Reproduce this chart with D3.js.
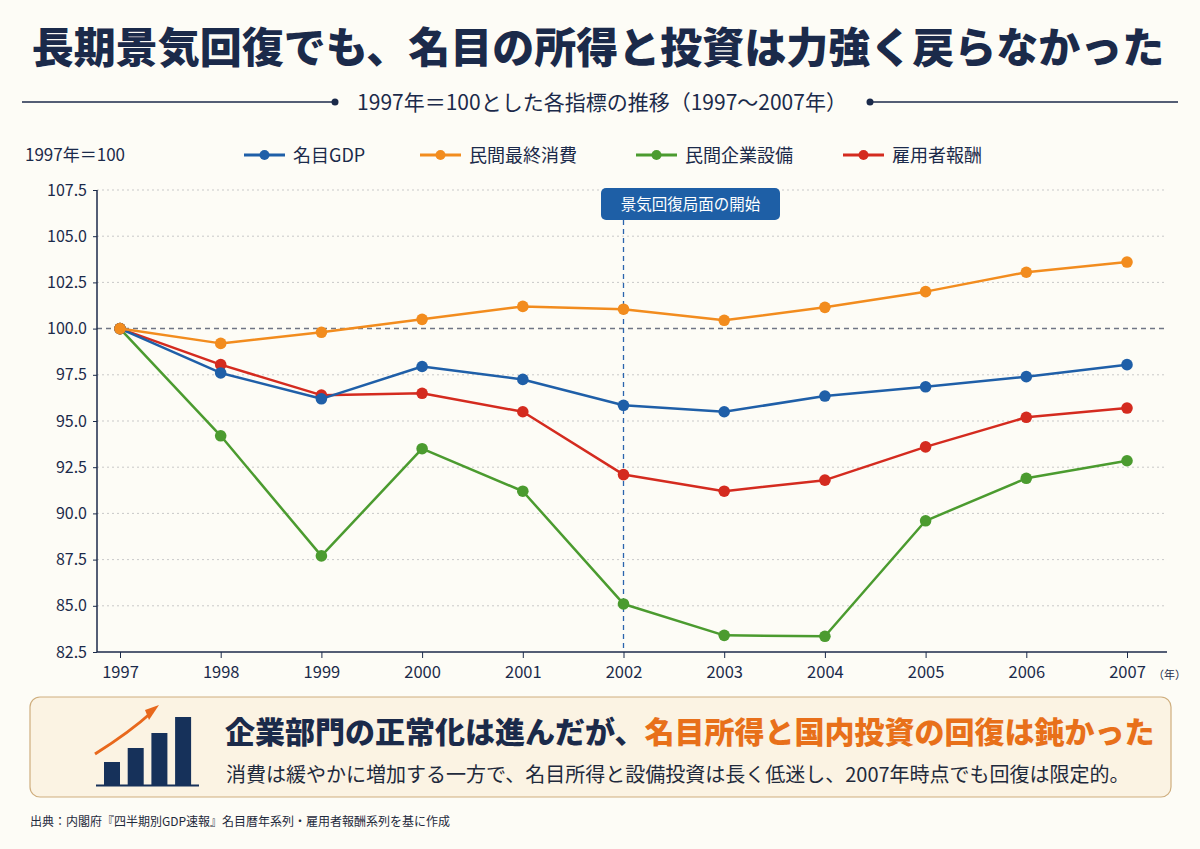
<!DOCTYPE html>
<html>
<head>
<meta charset="utf-8">
<script src="https://cdn.jsdelivr.net/npm/d3@7"></script>
<style>
  body { margin: 0; background: #fdfcf6; }
  svg { display: block; font-family: "Noto Sans CJK JP", "Noto Sans", sans-serif; }
</style>
</head>
<body>
<div id="chart"></div>
<script>
// data
var years = [1997, 1998, 1999, 2000, 2001, 2002, 2003, 2004, 2005, 2006, 2007];
var gdp = [100, 97.6, 96.2, 97.95, 97.25, 95.85, 95.5, 96.35, 96.85, 97.4, 98.05];
var consumption = [100, 99.2, 99.8, 100.5, 101.2, 101.05, 100.45, 101.15, 102.0, 103.05, 103.6];
var investment = [100, 94.2, 87.7, 93.5, 91.2, 85.1, 83.4, 83.35, 89.6, 91.9, 92.85];
var compensation = [100, 98.05, 96.4, 96.5, 95.5, 92.1, 91.2, 91.8, 93.6, 95.2, 95.7];
var seriesNames = ["名目GDP", "民間最終消費", "民間企業設備", "雇用者報酬"];
var yTicks = [82.5, 85, 87.5, 90, 92.5, 95, 97.5, 100, 102.5, 105, 107.5];
var recoveryYear = 2002;

var colors = ["#1f5fa8", "#f28c1e", "#4b9b2f", "#d42b1f"];
var navy = "#1b2a4a";

//general setup
var width = 1200, height = 849;
var plotLeft = 97, plotRight = 1167, plotTop = 190, plotBottom = 652;

var svg = d3.select("#chart").append("svg")
    .attr("width", width)
    .attr("height", height);

svg.append("rect").attr("width", width).attr("height", height).attr("fill", "#fdfcf6");

var xScale = d3.scaleLinear()
    .domain([1997, 2007])
    .range([120, 1127]);

var yScale = d3.scaleLinear()
    .domain([82.5, 107.5])
    .range([plotBottom, plotTop]);

//title
svg.append("text")
    .attr("x", 598).attr("y", 63)
    .attr("text-anchor", "middle")
    .attr("font-size", 42).attr("font-weight", 900)
    .attr("fill", navy)
    .text("長期景気回復でも、名目の所得と投資は力強く戻らなかった");

//subtitle with rules
svg.append("text")
    .attr("x", 602).attr("y", 110)
    .attr("text-anchor", "middle")
    .attr("font-size", 21).attr("fill", navy)
    .text("1997年＝100とした各指標の推移（1997〜2007年）");
[[22, 335], [870, 1178]].forEach(function (s, i) {
    svg.append("line")
        .attr("x1", s[0]).attr("x2", s[1]).attr("y1", 102).attr("y2", 102)
        .attr("stroke", navy).attr("stroke-width", 1.5);
    svg.append("circle")
        .attr("cx", i == 0 ? s[1] : s[0]).attr("cy", 102).attr("r", 3.5)
        .attr("fill", navy);
});

//y unit label
svg.append("text")
    .attr("x", 25).attr("y", 161)
    .attr("font-size", 17).attr("fill", navy)
    .text("1997年＝100");

//legend
var legendX = [244, 420, 636, 843];
seriesNames.forEach(function (n, i) {
    var lg = svg.append("g").attr("transform", "translate(" + legendX[i] + ",155)");
    lg.append("line").attr("x1", 0).attr("x2", 41).attr("stroke", colors[i]).attr("stroke-width", 3);
    lg.append("circle").attr("cx", 20.5).attr("r", 5).attr("fill", colors[i]);
    lg.append("text").attr("x", 49).attr("y", 6.5).attr("font-size", 18).attr("fill", navy).text(n);
});

//grid
svg.append("g")
    .selectAll("line")
    .data(yTicks.filter(function (d) { return d != 100 && d != 82.5; }))
    .enter().append("line")
    .attr("x1", plotLeft).attr("x2", plotRight)
    .attr("y1", function (d) { return yScale(d); })
    .attr("y2", function (d) { return yScale(d); })
    .attr("stroke", "#c9c9c9")
    .attr("stroke-dasharray", "2,3");

//100 reference line
svg.append("line")
    .attr("x1", plotLeft).attr("x2", plotRight)
    .attr("y1", yScale(100)).attr("y2", yScale(100))
    .attr("stroke", "#6f7585").attr("stroke-width", 1.5)
    .attr("stroke-dasharray", "5,4");

//recovery marker
svg.append("line")
    .attr("x1", xScale(recoveryYear)).attr("x2", xScale(recoveryYear))
    .attr("y1", 220).attr("y2", plotBottom)
    .attr("stroke", "#2a64ad").attr("stroke-width", 1.3)
    .attr("stroke-dasharray", "5,4");
svg.append("rect")
    .attr("x", 601).attr("y", 188).attr("width", 179).attr("height", 32).attr("rx", 5)
    .attr("fill", "#1e5fa6");
svg.append("text")
    .attr("x", 690.5).attr("y", 210)
    .attr("text-anchor", "middle")
    .attr("font-size", 15.5).attr("fill", "#fff")
    .text("景気回復局面の開始");

//y axis
var yAxis = svg.append("g")
    .attr("transform", "translate(" + plotLeft + ",0)")
    .call(d3.axisLeft(yScale).tickValues(yTicks).tickFormat(d3.format(".1f")).tickSize(4).tickPadding(6));
yAxis.select(".domain").attr("stroke", navy).attr("stroke-width", 1.5)
    .attr("d", "M0," + plotTop + "V" + plotBottom);
yAxis.selectAll(".tick line").attr("stroke", navy);
yAxis.selectAll(".tick text").attr("font-size", 16).attr("fill", navy)
    .attr("font-family", "'Noto Sans CJK JP', sans-serif");

//x axis
var xAxis = svg.append("g")
    .attr("transform", "translate(0," + plotBottom + ")")
    .call(d3.axisBottom(xScale).tickValues(years).tickFormat(d3.format("d")).tickSize(6).tickPadding(8));
xAxis.select(".domain").attr("stroke", navy).attr("stroke-width", 1.5)
    .attr("d", "M" + plotLeft + ",0H" + plotRight);
xAxis.selectAll(".tick line").attr("stroke", navy);
xAxis.selectAll(".tick text").attr("font-size", 16.5).attr("fill", navy)
    .attr("font-family", "'Noto Sans CJK JP', sans-serif");
svg.append("text")
    .attr("x", 1153).attr("y", 679)
    .attr("font-size", 11).attr("fill", navy)
    .text("（年）");

// make lines
var line = d3.line()
    .x(function (d, i) { return xScale(years[i]); })
    .y(function (d) { return yScale(d); });

var allSeries = [investment, compensation, gdp, consumption];
var allColors = [colors[2], colors[3], colors[0], colors[1]];
allSeries.forEach(function (s, k) {
    svg.append("path")
        .attr("d", line(s))
        .attr("fill", "none")
        .attr("stroke", allColors[k])
        .attr("stroke-width", 2.5)
        .attr("stroke-linejoin", "round");
    svg.append("g").selectAll("circle")
        .data(s).enter().append("circle")
        .attr("cx", function (d, i) { return xScale(years[i]); })
        .attr("cy", function (d) { return yScale(d); })
        .attr("r", 5.8)
        .attr("fill", allColors[k]);
});

//summary box
svg.append("rect")
    .attr("x", 30).attr("y", 697).attr("width", 1141).attr("height", 100).attr("rx", 10)
    .attr("fill", "#fbf3e3").attr("stroke", "#cfae7e").attr("stroke-width", 1.2);

// icon
var barH = [23, 37, 52, 68];
barH.forEach(function (h, i) {
    svg.append("rect")
        .attr("x", 104 + i * 23.7).attr("y", 785 - h)
        .attr("width", 16).attr("height", h)
        .attr("fill", "#16315a");
});
svg.append("line").attr("x1", 96).attr("x2", 199).attr("y1", 785.5).attr("y2", 785.5)
    .attr("stroke", "#16315a").attr("stroke-width", 2);
svg.append("path")
    .attr("d", "M95,754 Q130,732 152,712")
    .attr("fill", "none").attr("stroke", "#e8681c").attr("stroke-width", 3);
svg.append("path")
    .attr("d", "M159,705 L149,720 L145,710 Z")
    .attr("fill", "#e8681c");

var head = svg.append("text")
    .attr("x", 225).attr("y", 743)
    .attr("font-size", 30).attr("font-weight", 900);
head.append("tspan").attr("fill", navy).text("企業部門の正常化は進んだが、");
head.append("tspan").attr("fill", "#e8701a").text("名目所得と国内投資の回復は鈍かった");

svg.append("text")
    .attr("x", 226).attr("y", 782)
    .attr("font-size", 20).attr("fill", "#1f2a3c")
    .text("消費は緩やかに増加する一方で、名目所得と設備投資は長く低迷し、2007年時点でも回復は限定的。");

//source
svg.append("text")
    .attr("x", 30).attr("y", 826)
    .attr("font-size", 12).attr("fill", "#1f2a3c")
    .text("出典：内閣府『四半期別GDP速報』名目暦年系列・雇用者報酬系列を基に作成");
</script>
</body>
</html>
